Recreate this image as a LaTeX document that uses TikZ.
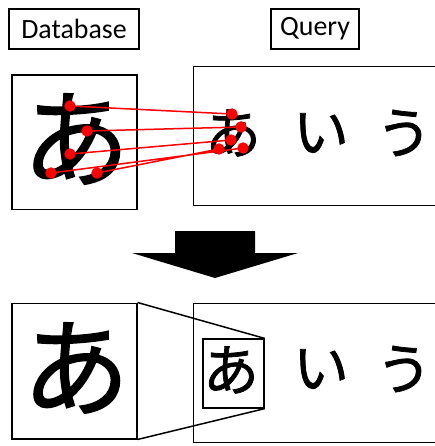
\documentclass[tikz,border=0pt]{standalone}
\usepackage{fontspec}
\setmainfont{Carlito}
\newfontfamily\jp[FakeBold=1.3]{Noto Sans CJK JP}

\tikzset{
	frame/.style={draw, line width=1.5bp, inner sep=0pt},
	labelbox/.style={draw, line width=1.5bp, inner sep=0pt, font=\fontsize{28}{28}\selectfont},
	bigchar/.style={inner sep=0pt, font=\jp\fontsize{108}{108}\selectfont},
	smallchar/.style={inner sep=0pt, font=\jp\fontsize{56}{56}\selectfont},
	match/.style={red, line width=1.5bp},
	kpdot/.style={draw=red, line width=5.5bp}
}

\begin{document}
\begin{tikzpicture}[x=1bp, y=-1bp]
	\useasboundingbox (0,0) rectangle (435,446);
	% labels
	\node[labelbox, minimum width=130, minimum height=40] (db) at (74,29) {Database};
	\node[labelbox, minimum width=88, minimum height=40] (qu) at (315,29) {Query};
	% upper half: keypoint matching
	\node[frame, minimum width=125, minimum height=135] (dbtop) at (74.5,142.5) {};
	\node[frame, minimum width=250, minimum height=140] (qtop) at (318,136) {};
	\node[bigchar] (a1) at (76,139) {あ};
	\node[smallchar] (a2) at (233,133) {あ};
	\node[smallchar] (i1) at (321,133) {い};
	\node[smallchar] (u1) at (404,133) {う};
	\coordinate (d1) at (70,106);
	\coordinate (d2) at (87,131);
	\coordinate (d3) at (70,154);
	\coordinate (d4) at (51,173);
	\coordinate (d5) at (97,173);
	\coordinate (q1) at (232,114);
	\coordinate (q2) at (241,127);
	\coordinate (q3) at (231,140);
	\coordinate (q4) at (243,148);
	\coordinate (q5) at (219,149);
	\draw[match] (d1) -- (q1) (d2) -- (q2) (d3) -- (q3) (d4) -- (q4) (d5) -- (q5);
	\foreach \p in {d1,d2,d3,d4,d5,q1,q2,q3,q4,q5}
		\draw[kpdot] (\p) circle[radius=2.75bp];
	% arrow
	\fill (175,231) -- (255,231) -- (255,253) -- (298,253) -- (215,278) -- (132,253) -- (175,253) -- cycle;
	% lower half: detected region
	\node[frame, minimum width=125, minimum height=136] (dbbot) at (74.5,371) {};
	\node[frame, minimum width=250, minimum height=140] (qbot) at (318,373) {};
	\node[bigchar] (a3) at (76,368) {あ};
	\node[frame, minimum width=61, minimum height=69] (sel) at (233.5,373.5) {};
	\node[smallchar] (a4) at (231,370) {あ};
	\node[smallchar] (i2) at (321,369) {い};
	\node[smallchar] (u2) at (404,369) {う};
	\draw[line width=1.5bp] (dbbot.north east) -- (sel.north east)
		(dbbot.south east) -- (sel.south east);
\end{tikzpicture}
\end{document}
